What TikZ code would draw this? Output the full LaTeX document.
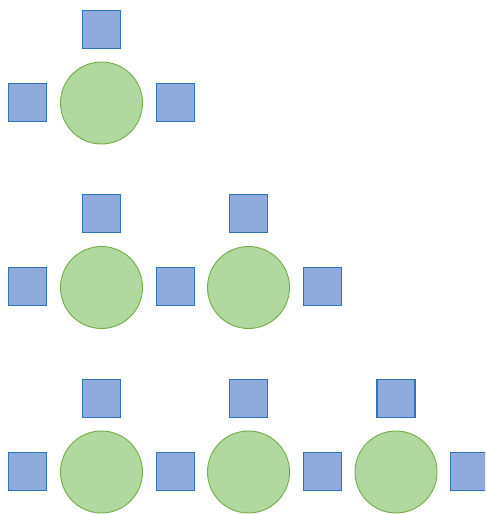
\documentclass[tikz,border=0pt]{standalone}
\definecolor{sqfill}{RGB}{143,170,220}
\definecolor{sqdraw}{RGB}{46,117,182}
\definecolor{cfill}{RGB}{177,216,158}
\definecolor{cdraw}{RGB}{112,173,71}
\begin{document}
\begin{tikzpicture}[
    x=1pt, y=-1pt,
    site/.style={circle, draw=cdraw, fill=cfill, line width=0.9pt,
                 minimum size=82pt, inner sep=0pt},
    port/.style={rectangle, draw=sqdraw, fill=sqfill, line width=1.1pt,
                 minimum size=38pt, inner sep=0pt},
]
\useasboundingbox (0,0) rectangle (485,514);
\clip (0,0) rectangle (485,514);

% ---------- Row 1: one site ----------
\node[site] (a1) at (101.5, 103) {};
\node[port] (a1n) at (101.5, 29.5) {};
\node[port] (a0)  at (27.5, 102.5) {};
\node[port] (a1e) at (175.5, 102.5) {};

% ---------- Row 2: two sites ----------
\node[site] (b1) at (101.5, 287.5) {};
\node[site] (b2) at (248.5, 287.5) {};
\node[port] (b1n) at (101.5, 213.5) {};
\node[port] (b2n) at (248.5, 213.5) {};
\node[port] (b0)  at (27.5, 286.5) {};
\node[port] (b1e) at (175.5, 286.5) {};
\node[port] (b2e) at (322.5, 286.5) {};

% ---------- Row 3: three sites ----------
\node[site] (c1) at (101.5, 472) {};
\node[site] (c2) at (248.5, 472) {};
\node[site] (c3) at (396, 472) {};
\node[port] (c1n) at (101.5, 398.5) {};
\node[port] (c2n) at (248.5, 398.5) {};
\node[port] (c3n) at (396, 398.5) {};
\node[port] (c0)  at (27.5, 471.5) {};
\node[port] (c1e) at (175.5, 471.5) {};
\node[port] (c2e) at (322.5, 471.5) {};
\node[port] (c3e) at (469.5, 471.5) {};

\end{tikzpicture}
\end{document}
